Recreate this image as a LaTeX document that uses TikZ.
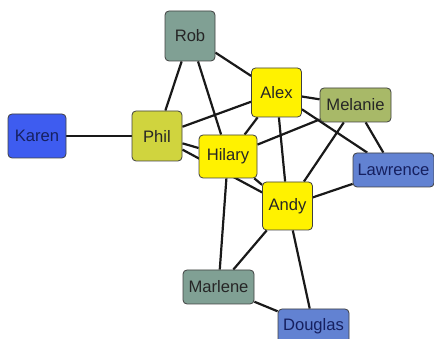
\documentclass[tikz,border=0pt]{standalone}
\usepackage{fontspec}
\setmainfont{Liberation Sans}
\usepackage{tikz}

\definecolor{greenish}{RGB}{128,160,148}
\definecolor{olive}{RGB}{168,185,104}
\definecolor{lime}{RGB}{208,212,62}
\definecolor{royal}{RGB}{62,92,240}
\definecolor{steel}{RGB}{98,130,210}
\definecolor{navy}{RGB}{22,32,96}

\pgfdeclarelayer{edges}
\pgfsetlayers{edges,main}

\begin{document}
\begin{tikzpicture}[x=1pt, y=-1pt]
   \tikzstyle{every node}=[draw=black!75, line width=0.8pt, rounded corners=4pt, inner sep=0pt, text=black!85, font=\fontsize{16.6}{19}\selectfont]
   \tikzstyle{wide}=[minimum width=71pt, minimum height=34pt]
   \tikzstyle{square}=[minimum width=50pt, minimum height=49pt]
   \tikzstyle{link}=[draw=black!90, line width=2.2pt]

\useasboundingbox (0,0) rectangle (434,339);

\node[square, fill=greenish, minimum height=50pt] (rob) at (190,36) {Rob};
\node[square, fill=yellow] (alex) at (276.5,92.5) {Alex};
\node[wide, fill=olive] (melanie) at (355.5,105) {Melanie};
\node[fill=royal, text=navy, minimum width=58pt, minimum height=44pt] (karen) at (37,136) {Karen};
\node[square, fill=lime, minimum height=50pt] (phil) at (157,136) {Phil};
\node[fill=yellow, minimum width=58pt, minimum height=43pt] (hilary) at (228,156.5) {Hilary};
\node[wide, fill=steel, text=navy, minimum width=81pt] (lawrence) at (393.5,170) {Lawrence};
\node[square, fill=yellow, minimum height=48pt] (andy) at (287.5,206) {Andy};
\node[wide, fill=greenish] (marlene) at (218.5,287) {Marlene};
\node[wide, fill=steel, text=navy] (douglas) at (313.5,326) {Douglas};

\begin{pgfonlayer}{edges}
   \draw[link] (karen) -- (phil);
   \draw[link] (phil) -- (rob);
   \draw[link] (phil) -- (alex);
   \draw[link] (phil) -- (hilary);
   \draw[link] (phil) -- (andy);
   \draw[link] (rob) -- (hilary);
   \draw[link] (rob) -- (alex);
   \draw[link] (alex) -- (melanie);
   \draw[link] (alex) -- (hilary);
   \draw[link] (alex) -- (andy);
   \draw[link] (alex) -- (lawrence);
   \draw[link] (melanie) -- (hilary);
   \draw[link] (melanie) -- (andy);
   \draw[link] (melanie) -- (lawrence);
   \draw[link] (lawrence) -- (andy);
   \draw[link] (hilary) -- (andy);
   \draw[link] (hilary) -- (marlene);
   \draw[link] (andy) -- (marlene);
   \draw[link] (andy) -- (douglas);
   \draw[link] (marlene) -- (douglas);
\end{pgfonlayer}

\end{tikzpicture}
\end{document}
